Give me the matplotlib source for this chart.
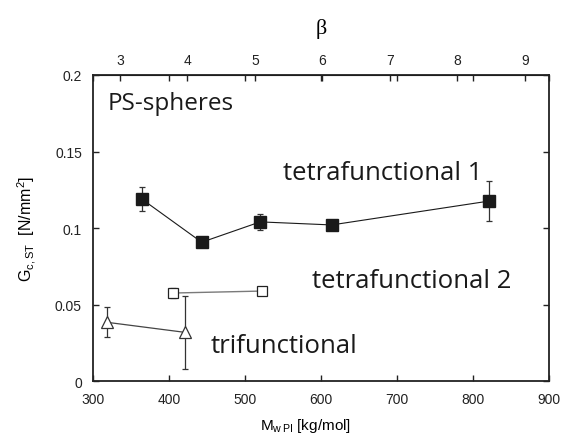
import matplotlib
matplotlib.use("Agg")
import matplotlib.pyplot as plt

plt.rcParams["font.family"] = ["Liberation Sans", "DejaVu Sans"]
plt.rcParams["mathtext.fontset"] = "custom"
plt.rcParams["mathtext.rm"] = "Liberation Sans"
plt.rcParams["mathtext.it"] = "Liberation Sans"
plt.rcParams["mathtext.default"] = "regular"

# ── Data ─────────────────────────────────────────────────────────────────
tetra1_mw = [364, 443, 520, 614, 821]
tetra1_g = [0.119, 0.0907, 0.104, 0.102, 0.1176]
tetra1_err = [0.008, 0.0, 0.005, 0.0, 0.0133]

tetra2_mw = [405, 523]
tetra2_g = [0.0575, 0.0588]
tetra2_err = [0.003, 0.002]

tri_mw = [318, 421]
tri_g = [0.0384, 0.0318]
tri_err = [0.0098, 0.024]

beta_ticks = [3, 4, 5, 6, 7, 8, 9]


# beta scale on top, linear in M_w
def mw_to_beta(m):
    return 3 + (m - 335.5) / 88.8


def beta_to_mw(b):
    return 335.5 + (b - 3) * 88.8


fig = plt.figure(figsize=(5.62, 4.35), dpi=100)
ax = fig.add_axes([0.1655, 0.1218, 0.8114, 0.7035])

ax.errorbar(tetra1_mw, tetra1_g, yerr=tetra1_err, color="#1a1a1a", lw=0.8,
            marker="s", ms=8, mfc="#1a1a1a", mec="#1a1a1a",
            ecolor="#333333", elinewidth=0.9, capsize=2.2, capthick=0.9)
ax.errorbar(tetra2_mw, tetra2_g, yerr=tetra2_err, color="#7a7a7a", lw=1.0,
            marker="s", ms=7.5, mfc="white", mec="#222222", mew=0.9,
            ecolor="#333333", elinewidth=0.9, capsize=2, capthick=0.9)
ax.errorbar(tri_mw, tri_g, yerr=tri_err, color="#444444", lw=0.9,
            marker="^", ms=9, mfc="white", mec="#333333", mew=0.9,
            ecolor="#333333", elinewidth=0.9, capsize=2.2, capthick=0.9)

ax.set_xlim(300, 900)
ax.set_ylim(0, 0.2)
ax.set_xticks([300, 400, 500, 600, 700, 800, 900])
ax.set_yticks([0, 0.05, 0.1, 0.15, 0.2])
ax.set_yticklabels(["0", "0.05", "0.1", "0.15", "0.2"])
ax.tick_params(direction="in", length=4, width=1, top=True, right=True,
               labelsize=10, colors="#222222")
ax.tick_params(axis="x", pad=8)
ax.tick_params(axis="y", pad=8)
for s in ax.spines.values():
    s.set_linewidth(1.3)
    s.set_color("#222222")

sec = ax.secondary_xaxis("top", functions=(mw_to_beta, beta_to_mw))
sec.set_xticks(beta_ticks)
sec.tick_params(direction="in", length=4, width=1, labelsize=10, pad=6,
                colors="#222222")
sec.set_xlabel("β", family="Liberation Serif", fontsize=16, labelpad=14)

ax.set_xlabel(r"M$_{\rm w\,PI}$ [kg/mol]", fontsize=11, labelpad=7, x=0.467)
ax.set_ylabel(r"G$_{\rm c,ST}$  [N/mm$^2$]", fontsize=11.5, labelpad=12)

label_font = ["Open Sans", "DejaVu Sans"]
ax.text(0.031, 0.889, "PS-spheres", transform=ax.transAxes, fontsize=17.5,
        family=label_font, va="baseline", ha="left", color="#1a1a1a")
ax.text(0.417, 0.660, "tetrafunctional 1", transform=ax.transAxes, fontsize=18.5,
        family=label_font, va="baseline", ha="left", color="#1a1a1a")
ax.text(0.480, 0.307, "tetrafunctional 2", transform=ax.transAxes, fontsize=18.5,
        family=label_font, va="baseline", ha="left", color="#1a1a1a")
ax.text(0.257, 0.095, "trifunctional", transform=ax.transAxes, fontsize=18.5,
        family=label_font, va="baseline", ha="left", color="#1a1a1a")

fig.savefig("out.png", dpi=100)
plt.close(fig)
